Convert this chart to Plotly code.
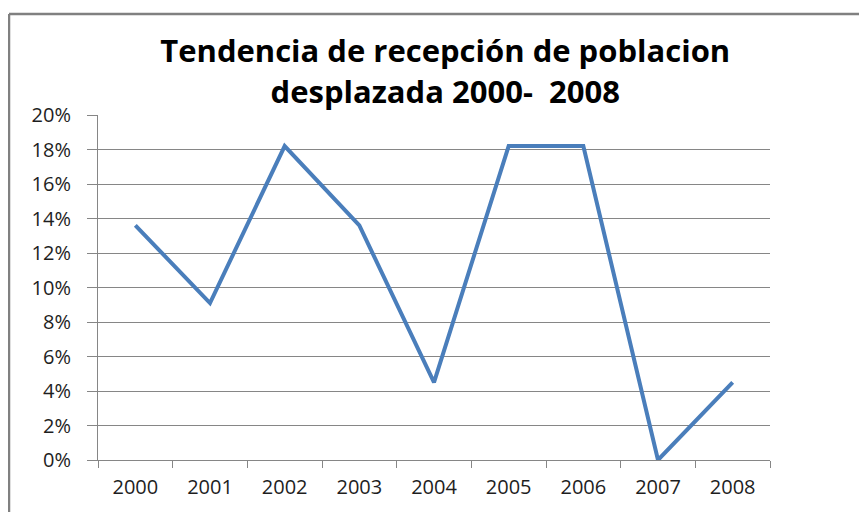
import plotly.graph_objects as go

years = ["2000", "2001", "2002", "2003", "2004", "2005", "2006", "2007", "2008"]
shares = [0.136, 0.091, 0.182, 0.136, 0.045, 0.182, 0.182, 0.0, 0.045]

fig = go.Figure()
fig.add_trace(go.Scatter(
    x=years, y=shares, mode='lines',
    line=dict(color='rgb(74, 126, 187)', width=4),
    hovertemplate='%{x}: %{y:.1%}<extra></extra>',
))

border = dict(color='rgb(128, 128, 128)', width=2.5)
left_x = -89 / 672
top_y = 446 / 345

# page has an 8px body margin, so the figure is drawn 8px right and down
fig.update_layout(
    width=859, height=504,
    margin=dict(l=90, r=97, t=107, b=52),
    paper_bgcolor='white', plot_bgcolor='white',
    showlegend=False,
    font=dict(family='Open Sans', size=20, color='rgb(30, 30, 30)'),
    title=dict(
        text='<b>Tendencia de recepción de poblacion<br>desplazada 2000-&nbsp; 2008</b>',
        x=0.509, xanchor='center', yref='container', y=0.892, yanchor='top',
        font=dict(family='Open Sans', size=31, color='black'),
    ),
    xaxis=dict(
        type='category', tickson='boundaries', range=[-0.5, 8.5],
        showgrid=False, showline=True, linecolor='rgb(134, 134, 134)', linewidth=1,
        ticks='outside', ticklen=7, tickcolor='rgb(134, 134, 134)',
        ticklabelstandoff=9, automargin=False,
    ),
    yaxis=dict(
        range=[0, 0.2], dtick=0.02, tickformat='.0%',
        showgrid=True, gridcolor='rgb(134, 134, 134)', gridwidth=1,
        showline=True, linecolor='rgb(134, 134, 134)', linewidth=1,
        zeroline=False,
        ticks='outside', ticklen=10, tickcolor='rgb(134, 134, 134)',
        ticklabelstandoff=12, automargin=False,
    ),
    shapes=[
        dict(type='line', xref='paper', yref='paper', layer='above',
             x0=left_x, x1=1.2, y0=top_y, y1=top_y, line=border),
        dict(type='line', xref='paper', yref='paper', layer='above',
             x0=left_x, x1=left_x, y0=top_y, y1=-0.3, line=border),
    ],
)

fig.write_html("out.html")
